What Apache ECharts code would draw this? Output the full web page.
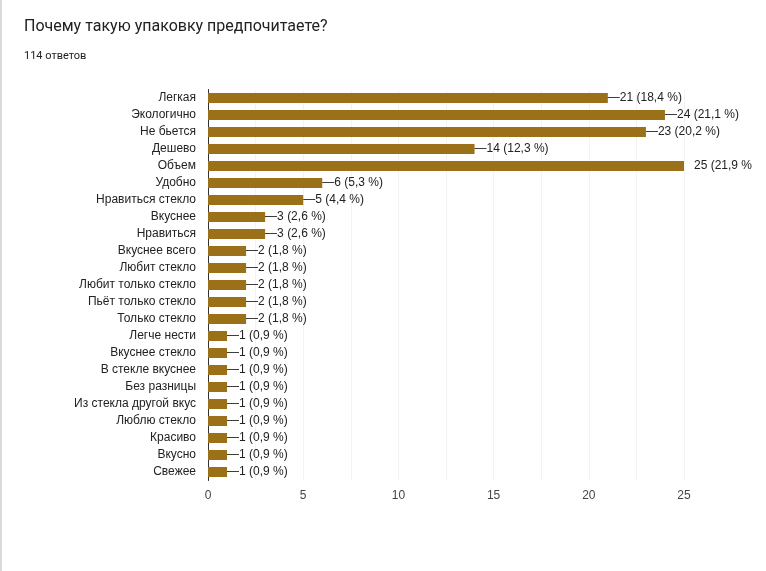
<!DOCTYPE html>
<html><head><meta charset="utf-8">
<script src="https://cdn.jsdelivr.net/npm/echarts@6/dist/echarts.min.js"></script>
<style>html,body{margin:0;padding:0;background:#fff}#c{width:766px;height:571px}</style>
</head><body><div id="c"></div>
<script>
const categories = ["Легкая","Экологично","Не бьется","Дешево","Объем","Удобно","Нравиться стекло","Вкуснее","Нравиться","Вкуснее всего","Любит стекло","Любит только стекло","Пьёт только стекло","Только стекло","Легче нести","Вкуснее стекло","В стекле вкуснее","Без разницы","Из стекла другой вкус","Люблю стекло","Красиво","Вкусно","Свежее"];
const values = [21,24,23,14,25,6,5,3,3,2,2,2,2,2,1,1,1,1,1,1,1,1,1];
const percents = ["18,4","21,1","20,2","12,3","21,9","5,3","4,4","2,6","2,6","1,8","1,8","1,8","1,8","1,8","0,9","0,9","0,9","0,9","0,9","0,9","0,9","0,9","0,9"];
const xTicks = [0,5,10,15,20,25];
const title = "Почему такую упаковку предпочитаете?";
const subtitle = "114 ответов";

const chart = echarts.init(document.getElementById('c'), null, {renderer:'canvas'});
const maxV = 25;
chart.setOption({
  animation:false,
  backgroundColor:'#fff',
  textStyle:{fontFamily:'Liberation Sans, Arial, sans-serif'},
  graphic:[
    {type:'rect', shape:{x:0,y:0,width:2,height:571}, style:{fill:'#dadada'}},
    {type:'text', left:24, top:19, style:{text:title, fontSize:16, fill:'#202124', fontFamily:'Roboto, sans-serif'}},
    {type:'text', left:24, top:51, style:{text:subtitle, fontSize:11, fill:'#202124', fontFamily:'Roboto, sans-serif'}}
  ],
  grid:{left:208, right:82, top:89.5, height:391, containLabel:false},
  xAxis:{type:'value', min:0, max:25, interval:2.5,
    axisLine:{show:false}, axisTick:{show:false},
    splitLine:{show:true, lineStyle:{color:'#f3f3f3', width:1}},
    axisLabel:{color:'#444', fontSize:12, margin:9,
      formatter:v => xTicks.includes(v) ? String(v) : ''}},
  yAxis:{type:'category', data:categories, inverse:true,
    axisLine:{show:true, lineStyle:{color:'#333', width:1}},
    axisTick:{show:false}, splitLine:{show:false},
    axisLabel:{color:'#222', fontSize:12, margin:12}},
  series:[{
    type:'bar', barWidth:10,
    itemStyle:{color:'#9a7118'},
    data: values.map((v,i)=>({value:v,
      label:{show:true, position:'right', distance: v===maxV ? 10 : 0,
        formatter:(v===maxV ? '' : '—') + v + ' (' + percents[i] + ' %' + (v===maxV ? '' : ')'),
        color:'#222', fontSize:12}})),
  }]
});
</script></body></html>
